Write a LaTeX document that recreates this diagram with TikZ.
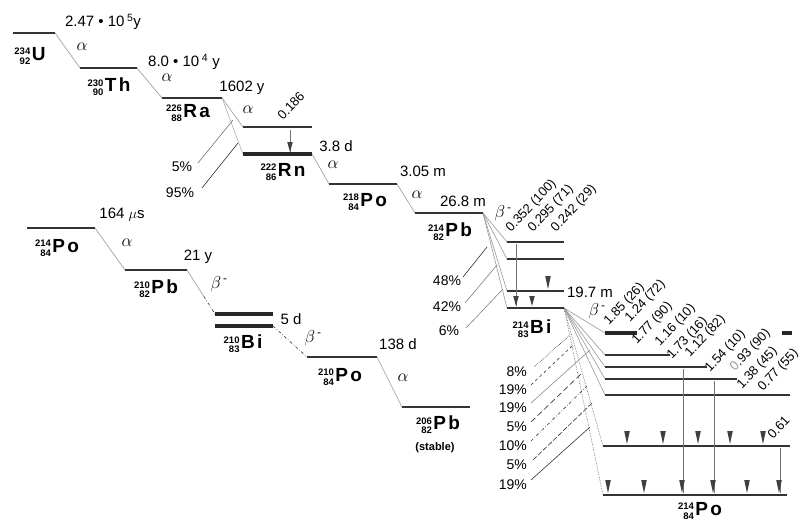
\documentclass[tikz,border=0pt]{standalone}
\usepackage{fontspec}
\setmainfont{Liberation Sans}
\newfontfamily\elfont[LetterSpace=12]{Liberation Sans}
\usetikzlibrary{calc}
\tikzset{
 lvl/.style={draw=black!80, line width=2.8pt},
 lvlb/.style={draw=black!85, line width=3.6pt},
 dec/.style={draw=black!40, line width=0.6pt},
 ptr/.style={draw=black!80, line width=0.6pt},
 gam/.style={draw=black!55, line width=0.45pt},
 hl/.style={font=\fontsize{15}{15}\selectfont, inner sep=0pt},
 gr/.style={font=\fontsize{17}{17}\selectfont, inner sep=0pt},
 pct/.style={font=\fontsize{14}{14}\selectfont, inner sep=0pt},
 en/.style={font=\fontsize{13}{13}\selectfont, inner sep=0pt, anchor=base west, rotate=47},
 nl/.style={inner sep=0pt},
 tri/.pic={\fill[black!75] (-2.8,-13) -- (2.8,-13) -- (0,0) -- cycle;},
 tris/.pic={\fill[black!75] (-2.8,-10) -- (2.8,-10) -- (0,0) -- cycle;},
}
\newcommand\nuc[3]{\raisebox{-4pt}{\fontsize{9.5}{10}\selectfont\bfseries\shortstack[r]{#1\\#2}}\hspace{1.5pt}{\elfont\fontsize{19}{19}\selectfont\bfseries #3}}
\newcommand\bminus{$\beta$\textsuperscript{\,-}}
\begin{document}
\begin{tikzpicture}[x=1pt,y=-1pt]
\useasboundingbox[fill=white] (0,0) rectangle (804,525);
% ---------- level coordinates ----------
\coordinate (Ul) at (13,33);   \coordinate (Ur) at (55,33);
\coordinate (Thl) at (80,68);  \coordinate (Thr) at (137,68);
\coordinate (Ral) at (162,98); \coordinate (Rar) at (222,98);
\coordinate (Rnxl) at (243,127); \coordinate (Rnxr) at (312,127);
\coordinate (Rnl) at (243,154);  \coordinate (Rnr) at (312,154);
\coordinate (PoAl) at (329,184); \coordinate (PoAr) at (397,184);
\coordinate (PbBl) at (415,213); \coordinate (PbBr) at (483,213);
\coordinate (B1l) at (507,242); \coordinate (B1r) at (564,242);
\coordinate (B2l) at (507,259); \coordinate (B2r) at (564,259);
\coordinate (B3l) at (507,291); \coordinate (B3r) at (564,291);
\coordinate (B4l) at (507,308); \coordinate (B4r) at (564,308);
\coordinate (P1l) at (605,333); \coordinate (P1r) at (637,333);
\coordinate (P1dl) at (782,333); \coordinate (P1dr) at (792,333);
\coordinate (P2l) at (605,355); \coordinate (P2r) at (670,355);
\coordinate (P3l) at (605,367); \coordinate (P3r) at (707,367);
\coordinate (P4l) at (605,379); \coordinate (P4r) at (737,379);
\coordinate (P5l) at (605,395); \coordinate (P5r) at (790,395);
\coordinate (P6l) at (603,446); \coordinate (P6r) at (790,446);
\coordinate (P7l) at (603,495); \coordinate (P7r) at (787,495);
\coordinate (PoCl) at (27,228);  \coordinate (PoCr) at (95,228);
\coordinate (PbDl) at (125,270); \coordinate (PbDr) at (187,270);
\coordinate (BiE1l) at (215,314); \coordinate (BiE1r) at (273,314);
\coordinate (BiE2l) at (215,326); \coordinate (BiE2r) at (273,326);
\coordinate (PoFl) at (307,357); \coordinate (PoFr) at (377,357);
\coordinate (PbGl) at (402,407); \coordinate (PbGr) at (470,407);
% ---------- decay connectors ----------
\draw[dec] (Ur) -- (Thl);
\draw[dec] (Thr) -- (Ral);
\draw[dec] (Rar) -- (Rnxl);
\draw[dec, black!30] (Rar) -- (Rnl);
\draw[dec] (Rnr) -- (PoAl);
\draw[dec] (PoAr) -- (PbBl);
\foreach \t in {B1l,B2l,B3l,B4l} \draw[dec] (PbBr) -- (\t);
\foreach \t in {P1l,P2l,P3l,P4l,P5l} \draw[dec] (B4r) -- (\t);
\draw[dec, black!60, densely dotted] (B4r) -- (P6l);
\draw[dec, black!60, densely dotted] (B4r) -- (P7l);
\draw[dec] (PoCr) -- (PbDl);
\draw[dec] (PbDr) -- ($(PbDr)!0.6!(BiE1l)$);
\draw[ptr, dash dot] ($(PbDr)!0.6!(BiE1l)$) -- (BiE1l);
\draw[ptr, dash dot] (BiE2r) -- (PoFl);
\draw[dec] (PoFr) -- (PbGl);
% ---------- levels ----------
\draw[lvl] (Ul) -- (Ur);
\draw[lvl] (Thl) -- (Thr);
\draw[lvl] (Ral) -- (Rar);
\draw[lvl] (Rnxl) -- (Rnxr);
\draw[lvlb] (Rnl) -- (Rnr);
\draw[lvl] (PoAl) -- (PoAr);
\draw[lvl] (PbBl) -- (PbBr);
\foreach \a/\b in {B1l/B1r,B2l/B2r,B3l/B3r,B4l/B4r} \draw[lvl] (\a) -- (\b);
\draw[lvlb] (P1l) -- (P1r);
\draw[lvlb] (P1dl) -- (P1dr);
\foreach \a/\b in {P2l/P2r,P3l/P3r,P4l/P4r,P5l/P5r,P6l/P6r,P7l/P7r} \draw[lvl] (\a) -- (\b);
\draw[lvl] (PoCl) -- (PoCr);
\draw[lvl] (PbDl) -- (PbDr);
\draw[lvlb] (BiE1l) -- (BiE1r);
\draw[lvlb] (BiE2l) -- (BiE2r);
\draw[lvl] (PoFl) -- (PoFr);
\draw[lvl] (PbGl) -- (PbGr);
% ---------- gamma transitions ----------
\coordinate (gR1) at (290,130); \coordinate (gR2) at (290,152);
\draw[gam] (gR1) -- (gR2); \pic at (gR2) {tris};
\coordinate (gB1) at (516,244); \coordinate (gB2) at (516,306);
\draw[gam] (gB1) -- (gB2);
\pic at (gB2) {tris}; \pic at (532,306) {tris}; \pic at (548,289) {tri};
\coordinate (g1a) at (683,369); \coordinate (g1b) at (683,493);
\coordinate (g2a) at (714,381); \coordinate (g2b) at (714,493);
\coordinate (g3a) at (780,448); \coordinate (g3b) at (780,493);
\draw[gam] (g1a) -- (g1b); \draw[gam] (g2a) -- (g2b); \draw[gam] (g3a) -- (g3b);
\foreach \x in {627,663,698,730,763} \pic at (\x,444) {tri};
\foreach \x in {608,644,682,713,747,779} \pic at (\x,493) {tri};
% ---------- nuclide labels ----------
\node[nl] (nU)  at (30,56)  {\nuc{234}{92}{U}};
\node[nl] (nTh) at (109,87) {\nuc{230}{90}{Th}};
\node[nl] (nRa) at (188,113) {\nuc{226}{88}{Ra}};
\node[nl] (nRn) at (283,172) {\nuc{222}{86}{Rn}};
\node[nl] (nPoA) at (365,202) {\nuc{218}{84}{Po}};
\node[nl] (nPbB) at (450,232) {\nuc{214}{82}{Pb}};
\node[nl] (nBi) at (532,329) {\nuc{214}{83}{Bi}};
\node[nl] (nPo) at (700,511) {\nuc{214}{84}{Po}};
\node[nl] (nPoC) at (57,248) {\nuc{214}{84}{Po}};
\node[nl] (nPbD) at (156,289) {\nuc{210}{82}{Pb}};
\node[nl] (nBiE) at (243,344) {\nuc{210}{83}{Bi}};
\node[nl] (nPoF) at (340,377) {\nuc{210}{84}{Po}};
\node[nl] (nPbG) at (438,425) {\nuc{206}{82}{Pb}};
\node[nl, font=\fontsize{11}{11}\selectfont\bfseries] (stab) at (435,448) {(stable)};
% ---------- half-lives ----------
\node[hl] (hU)  at (103,22) {2.47 \textbullet\ 10\,\textsuperscript{5}y};
\node[hl] (hTh) at (184,62) {8.0 \textbullet\ 10\,\textsuperscript{4} y};
\node[hl] (hRa) at (242,88) {1602 y};
\node[hl] (hRn) at (336,146) {3.8 d};
\node[hl] (hPoA) at (423,171) {3.05 m};
\node[hl] (hPbB) at (463,201) {26.8 m};
\node[hl] (hBi) at (590,292) {19.7 m};
\node[hl] (hPoC) at (122,215) {164 $\mu$s};
\node[hl] (hPbD) at (198,257) {21 y};
\node[hl] (hBiE) at (291,319) {5 d};
\node[hl] (hPoF) at (398,344) {138 d};
% ---------- decay symbols ----------
\node[gr] at (82,47) {$\alpha$};
\node[gr] at (167,78) {$\alpha$};
\node[gr] at (248,110) {$\alpha$};
\node[gr] at (333,165) {$\alpha$};
\node[gr] at (417,195) {$\alpha$};
\node[gr] at (127,243) {$\alpha$};
\node[gr] at (403,378) {$\alpha$};
\node[gr] at (503,213) {\bminus};
\node[gr] at (597,311) {\bminus};
\node[gr] at (219,284) {\bminus};
\node[gr] at (313,338) {\bminus};
% ---------- energies ----------
\node[en] at (283,121) {0.186};
\node[en] at (511,233) {0.352 (100)};
\node[en] at (533,233) {0.295 (71)};
\node[en] at (556,233) {0.242 (29)};
\node[en] at (609,326) {1.85 (26)};
\node[en] at (630,323) {1.24 (72)};
\node[en] at (637,345) {1.77 (90)};
\node[en] at (660,347) {1.16 (10)};
\node[en] at (672,360) {1.73 (16)};
\node[en] at (690,358) {1.12 (82)};
\node[en] at (710,373) {1.54 (10)};
\node[en] at (735,372) {{\color{black!40}0}.93 (90)};
\node[en] at (742,390) {1.38 (45)};
\node[en] at (763,392) {0.77 (55)};
\node[en] at (773,440) {0.61};
% ---------- branching ratios ----------
\node[pct] (r5) at (182,167) {5\%};
\node[pct] (r95) at (180,193) {95\%};
\coordinate (q5a) at (198,163);  \coordinate (q5b) at (233,120);
\coordinate (q95a) at (202,188); \coordinate (q95b) at (238,143);
\draw[dec, black!55] (q5a) -- (q5b);
\draw[ptr] (q95a) -- (q95b);
\node[pct] (r48) at (447,281) {48\%};
\node[pct] (r42) at (447,307) {42\%};
\node[pct] (r6) at (449,331) {6\%};
\coordinate (q48a) at (463,277); \coordinate (q48b) at (487,247);
\coordinate (q42a) at (465,303); \coordinate (q42b) at (497,265);
\coordinate (q6a) at (466,328);  \coordinate (q6b) at (502,290);
\draw[ptr] (q48a) -- (q48b);
\draw[dec, black!50] (q42a) -- (q42b);
\draw[dec, black!50] (q6a) -- (q6b);
\node[pct, anchor=east] (s1) at (527,372) {8\%};
\node[pct, anchor=east] (s2) at (527,390) {19\%};
\node[pct, anchor=east] (s3) at (527,408) {19\%};
\node[pct, anchor=east] (s4) at (527,427) {5\%};
\node[pct, anchor=east] (s5) at (527,446) {10\%};
\node[pct, anchor=east] (s6) at (527,465) {5\%};
\node[pct, anchor=east] (s7) at (527,485) {19\%};
\coordinate (t1a) at (534,367); \coordinate (t1b) at (570,335);
\coordinate (t2a) at (531,385); \coordinate (t2b) at (573,345);
\coordinate (t3a) at (531,403); \coordinate (t3b) at (590,350);
\coordinate (t4a) at (531,422); \coordinate (t4b) at (582,373);
\coordinate (t5a) at (531,441); \coordinate (t5b) at (587,386);
\coordinate (t6a) at (533,460); \coordinate (t6b) at (592,403);
\coordinate (t7a) at (531,480); \coordinate (t7b) at (590,427);
\draw[ptr, densely dotted] (t1a) -- (t1b);
\draw[ptr, dashed] (t2a) -- (t2b);
\draw[dec, black!45] (t3a) -- (t3b);
\draw[ptr, dash pattern=on 6pt off 3pt] (t4a) -- (t4b);
\draw[ptr, dash dot] (t5a) -- (t5b);
\draw[ptr, dash pattern=on 5pt off 2pt] (t6a) -- (t6b);
\draw[ptr] (t7a) -- (t7b);
\end{tikzpicture}
\end{document}
